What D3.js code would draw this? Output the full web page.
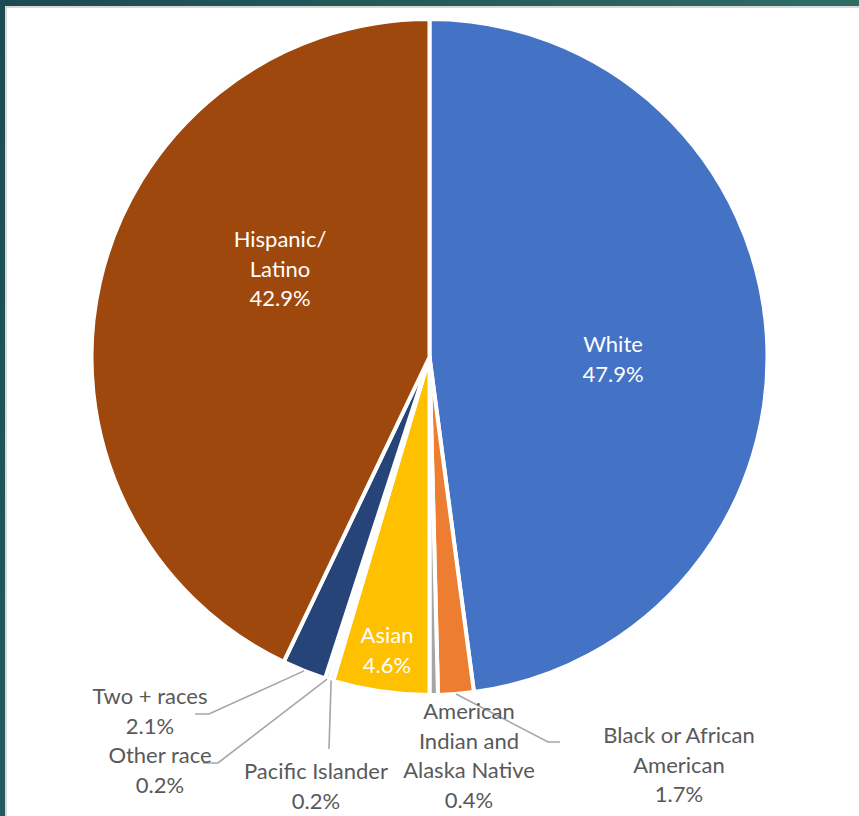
<!DOCTYPE html>
<html><head><meta charset="utf-8">
<script src="https://cdn.jsdelivr.net/npm/d3@7"></script>
<style>html,body{margin:0;padding:0;background:#fff;}svg{display:block;}</style>
</head><body>
<svg id="chart" width="859" height="816"></svg>
<script>
const categories = ["White","Black or African American","American Indian and Alaska Native","Asian","Pacific Islander","Other race","Two + races","Hispanic/ Latino"];
const values = [47.9, 1.7, 0.4, 4.6, 0.2, 0.2, 2.1, 42.9];
const labelLines = [["White"],["Black or African","American"],["American","Indian and","Alaska Native"],["Asian"],["Pacific Islander"],["Other race"],["Two + races"],["Hispanic/","Latino"]];
const colors = ["#4472C4","#ED7D31","#A5A5A5","#FFC000","#5B9BD5","#70AD47","#264478","#9E480E"];

// layout
const W = 859, H = 816;
const cx = 429.5, cy = 357, R = 338;
const labelPos = [[613,352],[679,743],[469,719],[387,643],[316,779],[160,763],[150,704],[280,247]];
const inside = [true,false,false,true,false,false,false,true];
const leaderBends = {1:[[548,742],[560,742]], 4:[[329,749]], 5:[[218,763],[203,763]], 6:[[209,714],[195,714]]};
const lineH = 29.5;

const svg = d3.select("#chart");
const defs = svg.append("defs");
const g1 = defs.append("linearGradient").attr("id","tealH").attr("x1","0").attr("x2","1").attr("y1","0").attr("y2","0");
g1.append("stop").attr("offset","0").attr("stop-color","#1b4a52");
g1.append("stop").attr("offset","1").attr("stop-color","#2f6d64");
const g2 = defs.append("linearGradient").attr("id","tealV").attr("x1","0").attr("x2","0").attr("y1","0").attr("y2","1");
g2.append("stop").attr("offset","0").attr("stop-color","#1b4a52");
g2.append("stop").attr("offset","1").attr("stop-color","#235a60");

svg.append("rect").attr("x",0).attr("y",0).attr("width",W).attr("height",H).attr("fill","#ffffff");
svg.append("rect").attr("x",0).attr("y",0).attr("width",W).attr("height",6).attr("fill","url(#tealH)");
svg.append("rect").attr("x",0).attr("y",0).attr("width",5).attr("height",H).attr("fill","url(#tealV)");
svg.append("rect").attr("x",5).attr("y",6).attr("width",W-5).attr("height",2).attr("fill","#d9d9d9");
svg.append("rect").attr("x",5).attr("y",6).attr("width",2).attr("height",H-6).attr("fill","#d9d9d9");

const data = categories.map((c,i)=>({cat:c, value:values[i], i}));
const pie = d3.pie().value(d=>d.value).sort(null).startAngle(0).endAngle(2*Math.PI);
const arcs = pie(data);
const arc = d3.arc().innerRadius(0).outerRadius(R);
const edge = d3.arc().innerRadius(R).outerRadius(R);

const g = svg.append("g").attr("transform",`translate(${cx},${cy})`);
g.selectAll("path.slice").data(arcs).enter().append("path")
  .attr("class","slice")
  .attr("d",arc)
  .attr("fill",d=>colors[d.data.i])
  .attr("stroke","#ffffff")
  .attr("stroke-width",4)
  .attr("stroke-linejoin","round");

// leader lines
arcs.forEach(a=>{
  const b = leaderBends[a.data.i];
  if(!b) return;
  const p = edge.centroid(a);
  const pts = [[cx+p[0], cy+p[1]], ...b];
  svg.append("polyline")
    .attr("points", pts.map(q=>q.join(",")).join(" "))
    .attr("fill","none").attr("stroke","#A6A6A6").attr("stroke-width",1.6);
});

// labels
const fmt = d3.format(".1f");
arcs.forEach(a=>{
  const i = a.data.i;
  const lines = labelLines[i].concat([fmt(a.data.value)+"%"]);
  const t = svg.append("text")
    .attr("x",labelPos[i][0]).attr("y",labelPos[i][1])
    .attr("text-anchor","middle")
    .attr("font-family","Lato, 'Noto Sans', sans-serif")
    .attr("font-size",22)
    .attr("fill", inside[i] ? "#ffffff" : "#595959");
  lines.forEach((ln,k)=>{
    t.append("tspan").attr("x",labelPos[i][0]).attr("dy", k===0?0:lineH).text(ln);
  });
});
</script>
</body></html>
